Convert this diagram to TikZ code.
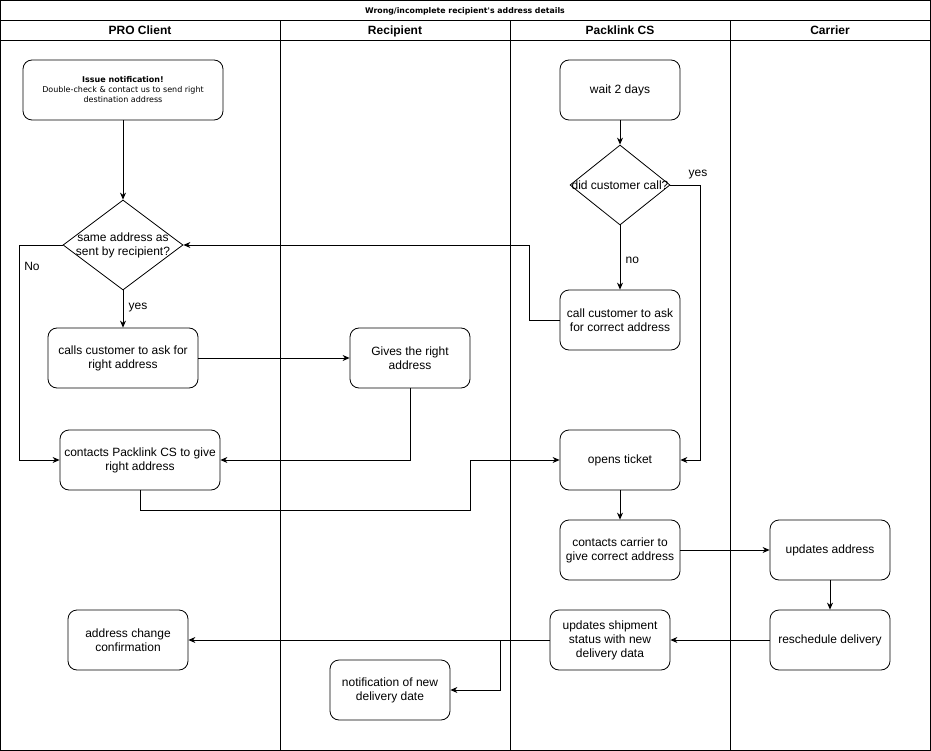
\documentclass[tikz,border=0pt]{standalone}
\usepackage{fontspec}
\setmainfont{Liberation Sans}
\newfontfamily\smallfont{DejaVu Sans}
\usetikzlibrary{shapes.geometric,arrows.meta,positioning}

\def \laneA{0.5}
\def \laneB{280.5}
\def \laneC{510.5}
\def \laneD{730.5}
\def \laneE{930.5}
\def \titleY{20.5}
\def \headY{40.5}
\def \bottomY{750.5}

\tikzset{
  stepbox/.style={draw, rounded corners=9pt, minimum width=120pt, minimum height=60pt, inner sep=0pt, align=center, font=\fontsize{12}{14}\selectfont},
  decision/.style={draw, diamond, inner sep=0pt},
  lanehead/.style={anchor=base, font=\bfseries\fontsize{12}{14}\selectfont},
  flow/.style={-{Stealth[length=7pt,width=6pt]}},
  tag/.style={font=\fontsize{12}{14}\selectfont}
}

\begin{document}
\begin{tikzpicture}[x=1pt, y=-1pt, line width=0.8pt]
\useasboundingbox (0,0) rectangle (931,751);
% ---- Pool and lanes
\draw (\laneA, 0.5) rectangle (\laneE, \bottomY);
\draw (\laneA, \titleY) -- (\laneE, \titleY);
\draw (\laneA, \headY) -- (\laneE, \headY);
\foreach \x in {\laneB, \laneC, \laneD}
  \draw (\x, \titleY) -- (\x, \bottomY);
\node[font=\smallfont\bfseries\fontsize{7.8}{9}\selectfont] (title) at (465, 11) {Wrong/incomplete recipient's address details};
\node[lanehead] (headpro) at (140, 34.5) {PRO Client};
\node[lanehead] (headrec) at (395, 34.5) {Recipient};
\node[lanehead] (headcs) at (620, 34.5) {Packlink CS};
\node[lanehead] (headcar) at (830, 34.5) {Carrier};

% ---- PRO Client
\node[stepbox, minimum width=200pt, font=\smallfont\fontsize{8}{10}\selectfont] (issue) at (123, 90) {\textbf{Issue notification!}\\Double-check \& contact us to send right\\destination address};
\node[decision, minimum width=120pt, minimum height=90pt, label={[tag, align=center]center:same address as\\sent by recipient?}] (same) at (123, 245) {};
\node[stepbox, minimum width=150pt] (callsrec) at (123, 358) {calls customer to ask for\\right address};
\node[stepbox, minimum width=160pt] (contactcs) at (140, 460) {contacts Packlink CS to give\\right address};
\node[stepbox] (confirm) at (128, 640) {address change\\confirmation};

% ---- Recipient
\node[stepbox] (gives) at (410, 358) {Gives the right\\address};
\node[stepbox] (notify) at (390, 690) {notification of new\\delivery date};

% ---- Packlink CS
\node[stepbox] (wait) at (620, 90) {wait 2 days};
\node[decision, minimum width=100pt, minimum height=80pt, label={[tag]center:did customer call?}] (didcall) at (620, 185) {};
\node[stepbox] (callcust) at (620, 320) {call customer to ask\\for correct address};
\node[stepbox] (ticket) at (620, 460) {opens ticket};
\node[stepbox] (tocarrier) at (620, 550) {contacts carrier to\\give correct address};
\node[stepbox] (status) at (610, 640) {updates shipment\\status with new\\delivery data};

% ---- Carrier
\node[stepbox] (update) at (830, 550) {updates address};
\node[stepbox] (resched) at (830, 640) {reschedule delivery};

% ---- Flow
\draw[flow] (issue) -- (same);
\draw[flow] (same) -- (callsrec) node[tag, pos=0.45, right=2pt] {yes};
\draw[flow] (same.west) -- ++(-43, 0) |- (contactcs.west);
\node[tag] (nolabel) at (32, 266) {No};
\draw[flow] (callsrec) -- (gives);
\draw[flow] (gives.south) |- (contactcs.east);
\draw[flow] (contactcs.south) -- ++(0, 20) -| (470, 460) -- (ticket.west);
\draw[flow] (wait) -- (didcall);
\draw[flow] (didcall.east) -- ++(30, 0) |- (ticket.east);
\node[tag] (yeslabel) at (698, 175) {yes};
\draw[flow] (didcall) -- (callcust) node[tag, pos=0.55, right=2pt] {no};
\draw[flow] (callcust.west) -- ++(-30, 0) |- (same.east);
\draw[flow] (ticket) -- (tocarrier);
\draw[flow] (tocarrier) -- (update);
\draw[flow] (update) -- (resched);
\draw[flow] (resched) -- (status);
\draw[flow] (status.west) -- (confirm.east);
\coordinate (split) at (500, 640);
\draw[flow] (split) |- (notify.east);
\end{tikzpicture}
\end{document}
